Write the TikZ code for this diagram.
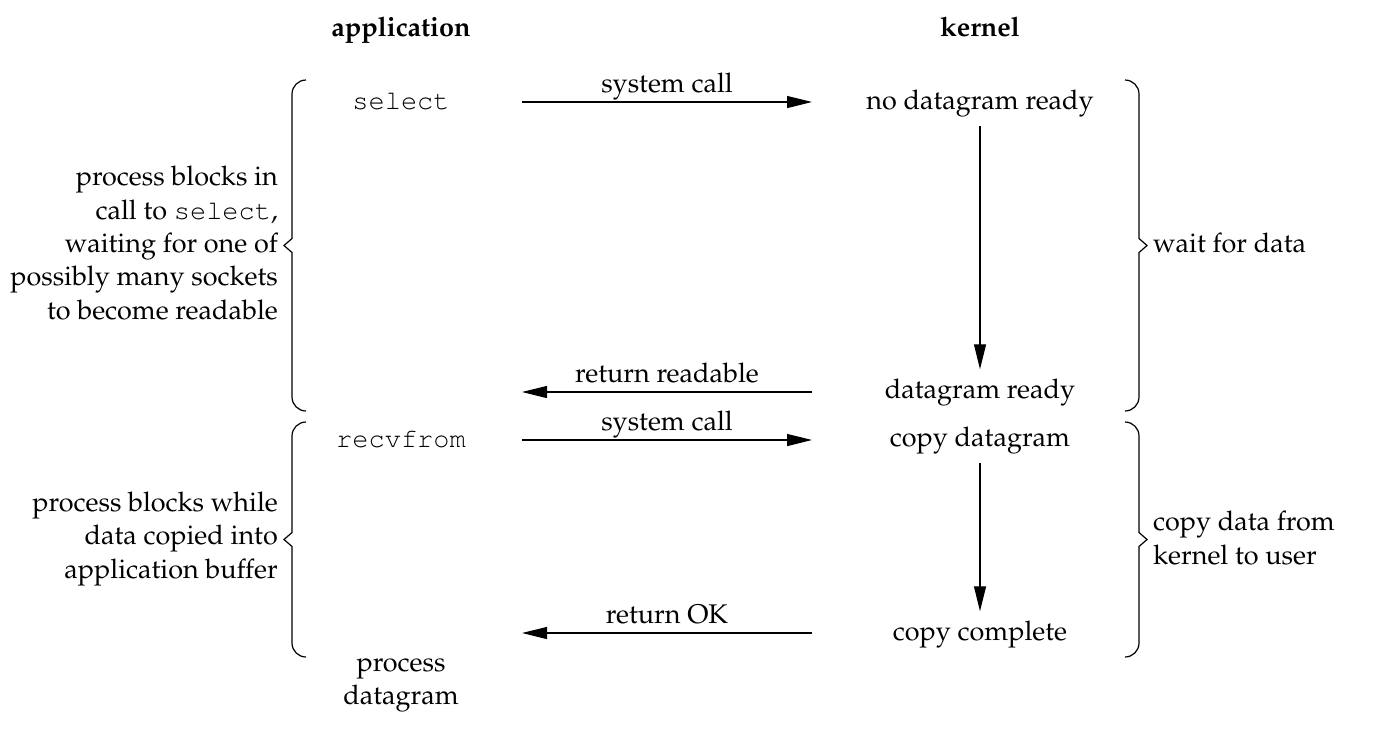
\documentclass[tikz,border=0pt]{standalone}
\usepackage[T1]{fontenc}
\usepackage{mathpazo}
\usepackage{courier}
\usetikzlibrary{arrows.meta,positioning}

\newcommand{\figfont}{\fontsize{27}{33.4}\selectfont}
% brace with a pointed tip: stem x, top y, bottom y
\newcommand{\bracelt}[3]{%
  \draw[bracestroke] ({#1+14},#2) to[out=180,in=90] ({#1},{#2+14})
    -- ({#1},{(#2+#3)/2-7}) -- ({#1-8},{(#2+#3)/2}) -- ({#1},{(#2+#3)/2+7})
    -- ({#1},{#3-14}) to[out=270,in=180] ({#1+14},#3);}
\newcommand{\bracert}[3]{%
  \draw[bracestroke] ({#1-14},#2) to[out=0,in=90] ({#1},{#2+14})
    -- ({#1},{(#2+#3)/2-7}) -- ({#1+8},{(#2+#3)/2}) -- ({#1},{(#2+#3)/2+7})
    -- ({#1},{#3-14}) to[out=270,in=0] ({#1-14},#3);}

\begin{document}
\begin{tikzpicture}[x=1pt, y=-1pt,
    txt/.style={font=\figfont, inner sep=9pt},
    side/.style={font=\figfont, inner sep=0pt},
    arrow/.style={-{Triangle[length=25pt,width=12pt]}, line width=1.2pt},
    lbl/.style={font=\figfont, inner sep=0pt, anchor=base, yshift=10pt},
    bracestroke/.style={line width=1.2pt}
]
    \useasboundingbox (0,0) rectangle (1396,732);

    % column heads
    \node[txt, anchor=base] (app) at (401,36) {\bfseries application};
    \node[txt, anchor=base] (kern) at (980,36) {\bfseries kernel};

    % application side
    \node[txt, anchor=base] (sel) at (401,109) {\texttt{select}};
    \node[txt, anchor=base] (recv) at (401,447) {\texttt{recvfrom}};
    \node[side, align=center] (procdg) at (401,685) {process\\datagram};

    % kernel side
    \node[txt, anchor=base] (nodg) at (980,109) {no datagram ready};
    \node[txt, anchor=base] (dgready) at (980,398) {datagram ready};
    \node[txt, anchor=base] (copydg) at (980,446) {copy datagram};
    \node[txt, anchor=base] (copycpl) at (980,640) {copy complete};

    % arrow ends
    \coordinate (call1a) at (522,102);
    \coordinate (call1k) at (812,102);
    \coordinate (ret1a) at (522,392);
    \coordinate (ret1k) at (812,392);
    \coordinate (call2a) at (522,440);
    \coordinate (call2k) at (812,440);
    \coordinate (ret2a) at (522,633);
    \coordinate (ret2k) at (812,633);

    \draw[arrow] (call1a) -- node[lbl] {system call} (call1k);
    \draw[arrow] (ret1k) -- node[lbl] {return readable} (ret1a);
    \draw[arrow] (call2a) -- node[lbl] {system call} (call2k);
    \draw[arrow] (ret2k) -- node[lbl] {return OK} (ret2a);

    \draw[arrow] (nodg.south) -- (dgready.north);
    \draw[arrow] (copydg.south) -- (copycpl.north);

    % braces and their notes
    \bracelt{292}{80}{411}
    \bracelt{292}{422}{657}
    \bracert{1139}{80}{411}
    \bracert{1139}{422}{657}

    \node[side, align=right, anchor=east] (waitnote) at (278,243)
        {process blocks in\\call to \texttt{select},\\waiting for one of\\possibly many sockets\\to become readable};
    \node[side, align=right, anchor=east] (copynote) at (278,539)
        {process blocks while\\data copied into\\application buffer};
    \node[side, anchor=base west] (waitdata) at (1153,252) {wait for data};
    \node[side, align=left, anchor=west] (copydata) at (1153,538)
        {copy data from\\kernel to user};
\end{tikzpicture}
\end{document}
